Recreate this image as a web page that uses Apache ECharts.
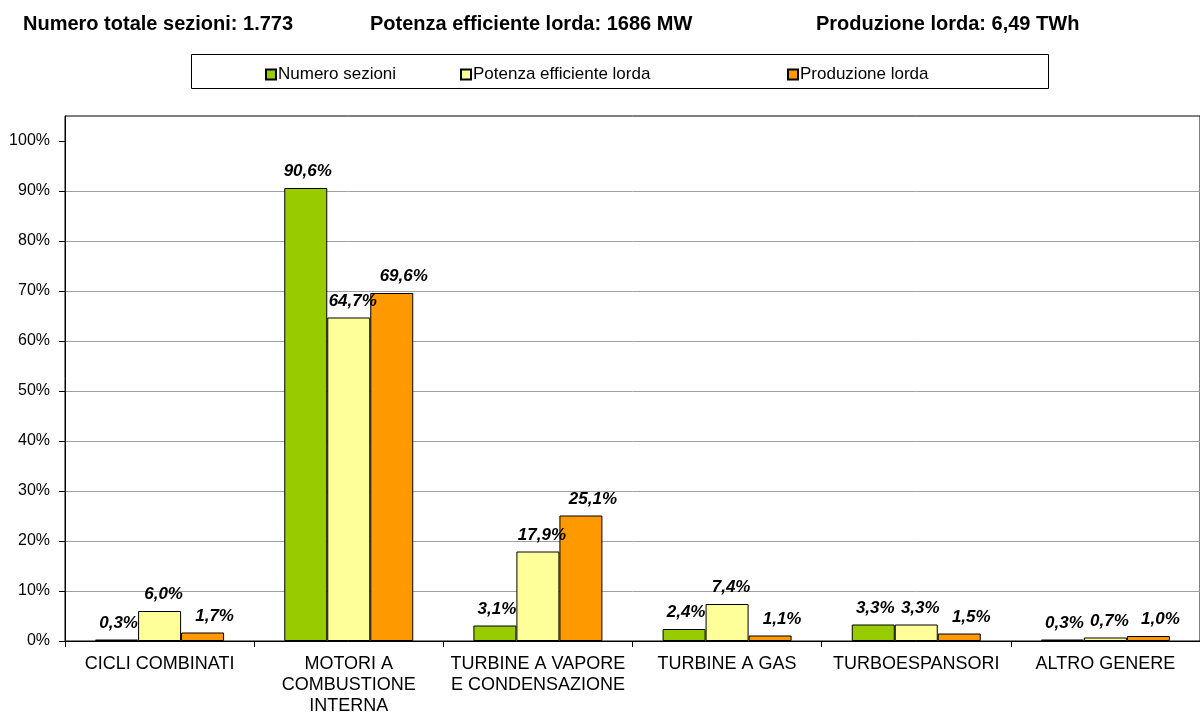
<!doctype html>
<html>
<head>
<meta charset="utf-8">
<script src="https://cdn.jsdelivr.net/npm/echarts@6/dist/echarts.min.js"></script>
<style>
* { margin:0px; padding:0px; }
body { background:#fff; }
#chart { width:1200px; height:717px; }
</style>
</head>
<body>
<div id="chart"></div>
<script>
// categorie (asse x)
var categorie = ['CICLI COMBINATI', 'MOTORI A\nCOMBUSTIONE\nINTERNA', 'TURBINE A VAPORE\nE CONDENSAZIONE', 'TURBINE A GAS', 'TURBOESPANSORI', 'ALTRO GENERE'];
// valori in %
var numeroSezioni = [0.3, 90.6, 3.1, 2.4, 3.3, 0.3];
var potenzaEfficiente = [6.0, 64.7, 17.9, 7.4, 3.3, 0.7];
var produzioneLorda = [1.7, 69.6, 25.1, 1.1, 1.5, 1.0];
var nomiSerie = ['Numero sezioni', 'Potenza efficiente lorda', 'Produzione lorda'];
var titoli = ['Numero totale sezioni: 1.773', 'Potenza efficiente lorda: 1686 MW', 'Produzione lorda: 6,49 TWh'];
// tacche asse y (0% .. 100%)
var tacchePercento = [0, 10, 20, 30, 40, 50, 60, 70, 80, 90, 100];

var fontBase = 'Arial, "Liberation Sans", sans-serif';

var myChart = echarts.init(document.getElementById('chart'));

// etichetta dati: 90,6%
var etichetta = function(dx){
	return {
		show: true,
		position: 'top',
		distance: 8,
		offset: [dx, 0],
		color: '#000',
		fontFamily: fontBase,
		fontSize: 17,
		fontWeight: 'bold',
		fontStyle: 'italic',
		formatter: function(p){ return p.value.toFixed(1).replace('.', ',') + '%'; }
	};
};

var serie = function(nome, dati, colore, dx){
	return {
		name: nome,
		type: 'bar',
		data: dati,
		barWidth: 43,
		barGap: '0%',
		itemStyle: { color: colore, borderColor: '#000', borderWidth: 1 },
		label: etichetta(dx)
	};
};

var legenda = function(nome, x){
	return {
		data: [{ name: nome, icon: 'rect' }],
		left: x,
		top: 61,
		itemWidth: 10,
		itemHeight: 10,
		selectedMode: false,
		textStyle: { fontFamily: fontBase, fontSize: 17, color: '#000', padding: [0, 0, 0, -3] }
	};
};

var option = {
	animation: false,
	title: [
		{ text: titoli[0], left: 18, top: 9 },
		{ text: titoli[1], left: 365, top: 9 },
		{ text: titoli[2], left: 811, top: 9 }
	].map(function(t){
		t.textStyle = { fontFamily: fontBase, fontSize: 20, fontWeight: 'bold', color: '#000' };
		return t;
	}),
	legend: [
		legenda(nomiSerie[0], 260),
		legenda(nomiSerie[1], 455),
		legenda(nomiSerie[2], 782)
	],
	graphic: [{
		type: 'rect',
		shape: { x: 191.5, y: 54.5, width: 857, height: 34 },
		style: { fill: 'none', stroke: '#000', lineWidth: 1 },
		z: -1
	}],
	grid: {
		left: 65,
		top: 116,
		width: 1142,
		height: 525,
		show: true,
		borderColor: '#000',
		borderWidth: 1,
		containLabel: false
	},
	xAxis: [{
		type: 'category',
		data: categorie,
		axisLine: { lineStyle: { color: '#000', width: 1 } },
		axisTick: { show: true, length: 6, lineStyle: { color: '#000' } },
		axisLabel: {
			color: '#000',
			fontFamily: fontBase,
			fontSize: 18,
			lineHeight: 21,
			margin: 13,
			interval: 0
		}
	}],
	yAxis: [{
		type: 'value',
		min: 0,
		max: 105,
		interval: 10,
		axisLine: { show: true, lineStyle: { color: '#000', width: 1 } },
		axisTick: { show: true, length: 6, customValues: tacchePercento, lineStyle: { color: '#000' } },
		axisLabel: {
			color: '#000',
			fontFamily: fontBase,
			fontSize: 16,
			margin: 15,
			customValues: tacchePercento,
			formatter: function(v){ return v + '%'; }
		},
		splitLine: { show: true, showMaxLine: false, lineStyle: { color: '#a0a0a0', width: 1 } }
	}],
	series: [
		serie(nomiSerie[0], numeroSezioni, '#99cc00', 2),
		serie(nomiSerie[1], potenzaEfficiente, '#ffff99', 4),
		serie(nomiSerie[2], produzioneLorda, '#ff9900', 12)
	]
};

myChart.setOption(option);
</script>
</body>
</html>
